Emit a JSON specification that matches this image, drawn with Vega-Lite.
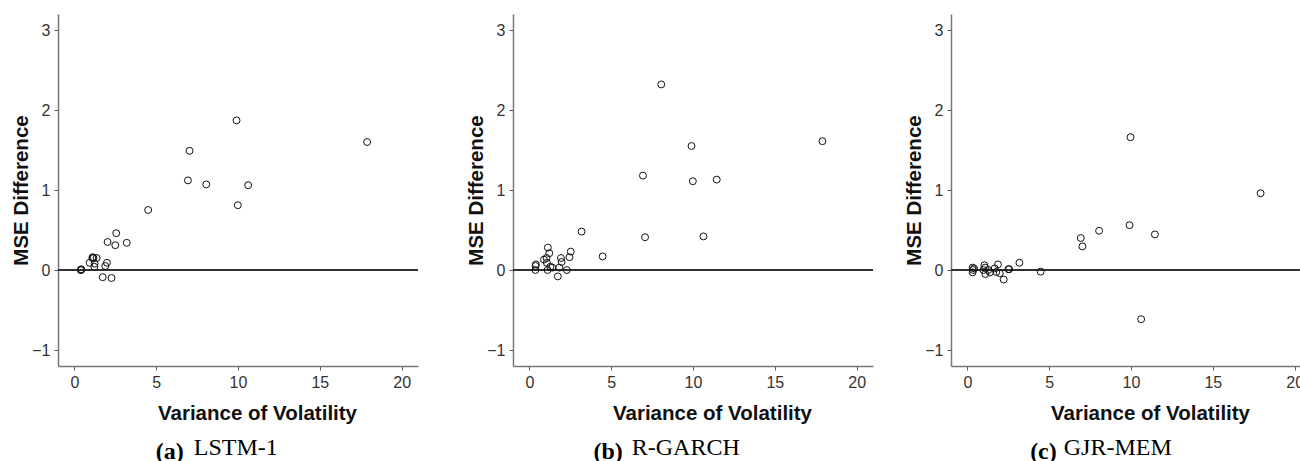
{
  "$schema": "https://vega.github.io/schema/vega-lite/v6.json",
  "padding": {"left": 11, "top": 14, "right": 0, "bottom": 0},
  "background": "white",
  "config": {
    "view": {"stroke": null},
    "axis": {
      "grid": false,
      "domainColor": "#777",
      "domainWidth": 1.5,
      "tickColor": "#555",
      "tickSize": 4,
      "tickWidth": 1,
      "labelColor": "#333",
      "labelFont": "Liberation Sans",
      "labelFontSize": 16,
      "labelPadding": 4,
      "titleFont": "Liberation Sans",
      "titleFontSize": 20.5,
      "titleFontWeight": "bold",
      "titleColor": "#111"
    },
    "title": {"font": "Liberation Serif", "fontSize": 24, "color": "#000", "orient": "bottom", "anchor": "middle", "frame": "bounds"}
  },
  "datasets": {
    "lstm": [
      {"x": 0.39, "y": 0.0}, {"x": 0.42, "y": 0.01}, {"x": 0.41, "y": 0.0}, {"x": 0.93, "y": 0.09},
      {"x": 1.1, "y": 0.15}, {"x": 1.12, "y": 0.16}, {"x": 1.17, "y": 0.15}, {"x": 1.36, "y": 0.15},
      {"x": 1.24, "y": 0.08}, {"x": 1.22, "y": 0.04}, {"x": 1.99, "y": 0.09}, {"x": 1.89, "y": 0.05},
      {"x": 1.73, "y": -0.09}, {"x": 2.27, "y": -0.1}, {"x": 2.03, "y": 0.35}, {"x": 2.5, "y": 0.31},
      {"x": 2.56, "y": 0.46}, {"x": 3.2, "y": 0.34}, {"x": 4.51, "y": 0.75}, {"x": 6.94, "y": 1.12},
      {"x": 7.04, "y": 1.49}, {"x": 8.06, "y": 1.07}, {"x": 9.91, "y": 1.87}, {"x": 9.99, "y": 0.81},
      {"x": 10.62, "y": 1.06}, {"x": 17.89, "y": 1.6}
    ],
    "rgarch": [
      {"x": 0.37, "y": 0.0}, {"x": 0.38, "y": 0.05}, {"x": 0.4, "y": 0.07}, {"x": 0.89, "y": 0.13},
      {"x": 1.05, "y": 0.15}, {"x": 1.13, "y": 0.28}, {"x": 1.22, "y": 0.21}, {"x": 1.07, "y": 0.09},
      {"x": 1.11, "y": 0.0}, {"x": 1.28, "y": 0.04}, {"x": 1.4, "y": 0.03}, {"x": 1.83, "y": 0.03},
      {"x": 1.74, "y": -0.08}, {"x": 1.93, "y": 0.15}, {"x": 1.97, "y": 0.1}, {"x": 2.29, "y": 0.0},
      {"x": 2.45, "y": 0.16}, {"x": 2.53, "y": 0.23}, {"x": 3.19, "y": 0.48}, {"x": 4.48, "y": 0.17},
      {"x": 6.94, "y": 1.18}, {"x": 7.07, "y": 0.41}, {"x": 8.06, "y": 2.32}, {"x": 9.91, "y": 1.55},
      {"x": 9.99, "y": 1.11}, {"x": 10.64, "y": 0.42}, {"x": 11.45, "y": 1.13}, {"x": 17.91, "y": 1.61}
    ],
    "gjr": [
      {"x": 0.32, "y": 0.03}, {"x": 0.32, "y": -0.03}, {"x": 0.35, "y": 0.0}, {"x": 0.41, "y": 0.02},
      {"x": 0.98, "y": 0.0}, {"x": 1.04, "y": 0.06}, {"x": 1.08, "y": 0.03}, {"x": 1.1, "y": -0.05},
      {"x": 1.28, "y": 0.0}, {"x": 1.38, "y": -0.03}, {"x": 1.67, "y": 0.02}, {"x": 1.77, "y": -0.025},
      {"x": 1.87, "y": 0.07}, {"x": 1.98, "y": -0.04}, {"x": 2.22, "y": -0.12}, {"x": 2.51, "y": 0.01},
      {"x": 2.55, "y": 0.01}, {"x": 3.18, "y": 0.09}, {"x": 4.48, "y": -0.02}, {"x": 6.93, "y": 0.4},
      {"x": 7.03, "y": 0.295}, {"x": 8.05, "y": 0.49}, {"x": 9.91, "y": 0.56}, {"x": 9.97, "y": 1.66},
      {"x": 10.62, "y": -0.615}, {"x": 11.46, "y": 0.445}, {"x": 17.92, "y": 0.96}
    ]
  },
  "spacing": 47,
  "hconcat": [
    {
      "title": {"text": "LSTM-1", "fontWeight": "normal", "align": "left", "dx": -21, "offset": -28},
      "hconcat": [
        {
          "title": {"text": "(a)", "fontWeight": "bold", "align": "right", "dx": -31, "offset": 16},
          "width": 360, "height": 352,
          "data": {"name": "lstm"},
          "layer": [
            {"mark": {"type": "rule", "color": "#333", "strokeWidth": 1}, "encoding": {"y": {"datum": 0}}},
            {
              "mark": {"type": "point", "shape": "circle", "filled": false, "color": "#111", "size": 48, "strokeWidth": 1, "opacity": 1},
              "encoding": {
                "x": {"field": "x", "type": "quantitative", "scale": {"domain": [-1, 21], "nice": false, "zero": false},
                      "axis": {"title": "Variance of Volatility", "values": [0, 5, 10, 15, 20], "format": "d", "titleX": 199, "titleY": 53, "titleBaseline": "alphabetic", "titleAlign": "center"}},
                "y": {"field": "y", "type": "quantitative", "scale": {"domain": [-1.2, 3.2], "nice": false, "zero": false},
                      "axis": {"title": "MSE Difference", "values": [-1, 0, 1, 2, 3], "format": "d", "titleX": -31, "titleY": 176, "titleAngle": -90, "titleBaseline": "alphabetic", "titleAlign": "center"}}
              }
            }
          ]
        }
      ]
    },
    {
      "spacing": 30,
      "hconcat": [
        {
          "title": {"text": "R-GARCH", "fontWeight": "normal", "align": "left", "dx": -38, "offset": -28},
          "hconcat": [
            {
              "title": {"text": "(b)", "fontWeight": "bold", "align": "right", "dx": -47, "offset": 16},
              "width": 360, "height": 352,
              "data": {"name": "rgarch"},
              "layer": [
                {"mark": {"type": "rule", "color": "#333", "strokeWidth": 1}, "encoding": {"y": {"datum": 0}}},
                {
                  "mark": {"type": "point", "shape": "circle", "filled": false, "color": "#111", "size": 48, "strokeWidth": 1, "opacity": 1},
                  "encoding": {
                    "x": {"field": "x", "type": "quantitative", "scale": {"domain": [-1, 21], "nice": false, "zero": false},
                          "axis": {"title": "Variance of Volatility", "values": [0, 5, 10, 15, 20], "format": "d", "titleX": 199, "titleY": 53, "titleBaseline": "alphabetic", "titleAlign": "center"}},
                    "y": {"field": "y", "type": "quantitative", "scale": {"domain": [-1.2, 3.2], "nice": false, "zero": false},
                          "axis": {"title": "MSE Difference", "values": [-1, 0, 1, 2, 3], "format": "d", "titleX": -31, "titleY": 176, "titleAngle": -90, "titleBaseline": "alphabetic", "titleAlign": "center"}}
                  }
                }
              ]
            }
          ]
        },
        {
          "title": {"text": "GJR-MEM", "fontWeight": "normal", "align": "left", "dx": -40, "offset": -28},
          "hconcat": [
            {
              "title": {"text": "(c)", "fontWeight": "bold", "align": "right", "dx": -47, "offset": 16},
              "width": 351, "height": 352,
              "data": {"name": "gjr"},
              "layer": [
                {"mark": {"type": "rule", "color": "#333", "strokeWidth": 1}, "encoding": {"y": {"datum": 0}}},
                {
                  "mark": {"type": "point", "shape": "circle", "filled": false, "color": "#111", "size": 48, "strokeWidth": 1, "opacity": 1},
                  "encoding": {
                    "x": {"field": "x", "type": "quantitative", "scale": {"domain": [-1, 20.45], "nice": false, "zero": false},
                          "axis": {"title": "Variance of Volatility", "values": [0, 5, 10, 15, 20], "format": "d", "titleX": 199, "titleY": 53, "titleBaseline": "alphabetic", "titleAlign": "center"}},
                    "y": {"field": "y", "type": "quantitative", "scale": {"domain": [-1.2, 3.2], "nice": false, "zero": false},
                          "axis": {"title": "MSE Difference", "values": [-1, 0, 1, 2, 3], "format": "d", "titleX": -31, "titleY": 176, "titleAngle": -90, "titleBaseline": "alphabetic", "titleAlign": "center"}}
                  }
                }
              ]
            }
          ]
        }
      ]
    }
  ]
}
